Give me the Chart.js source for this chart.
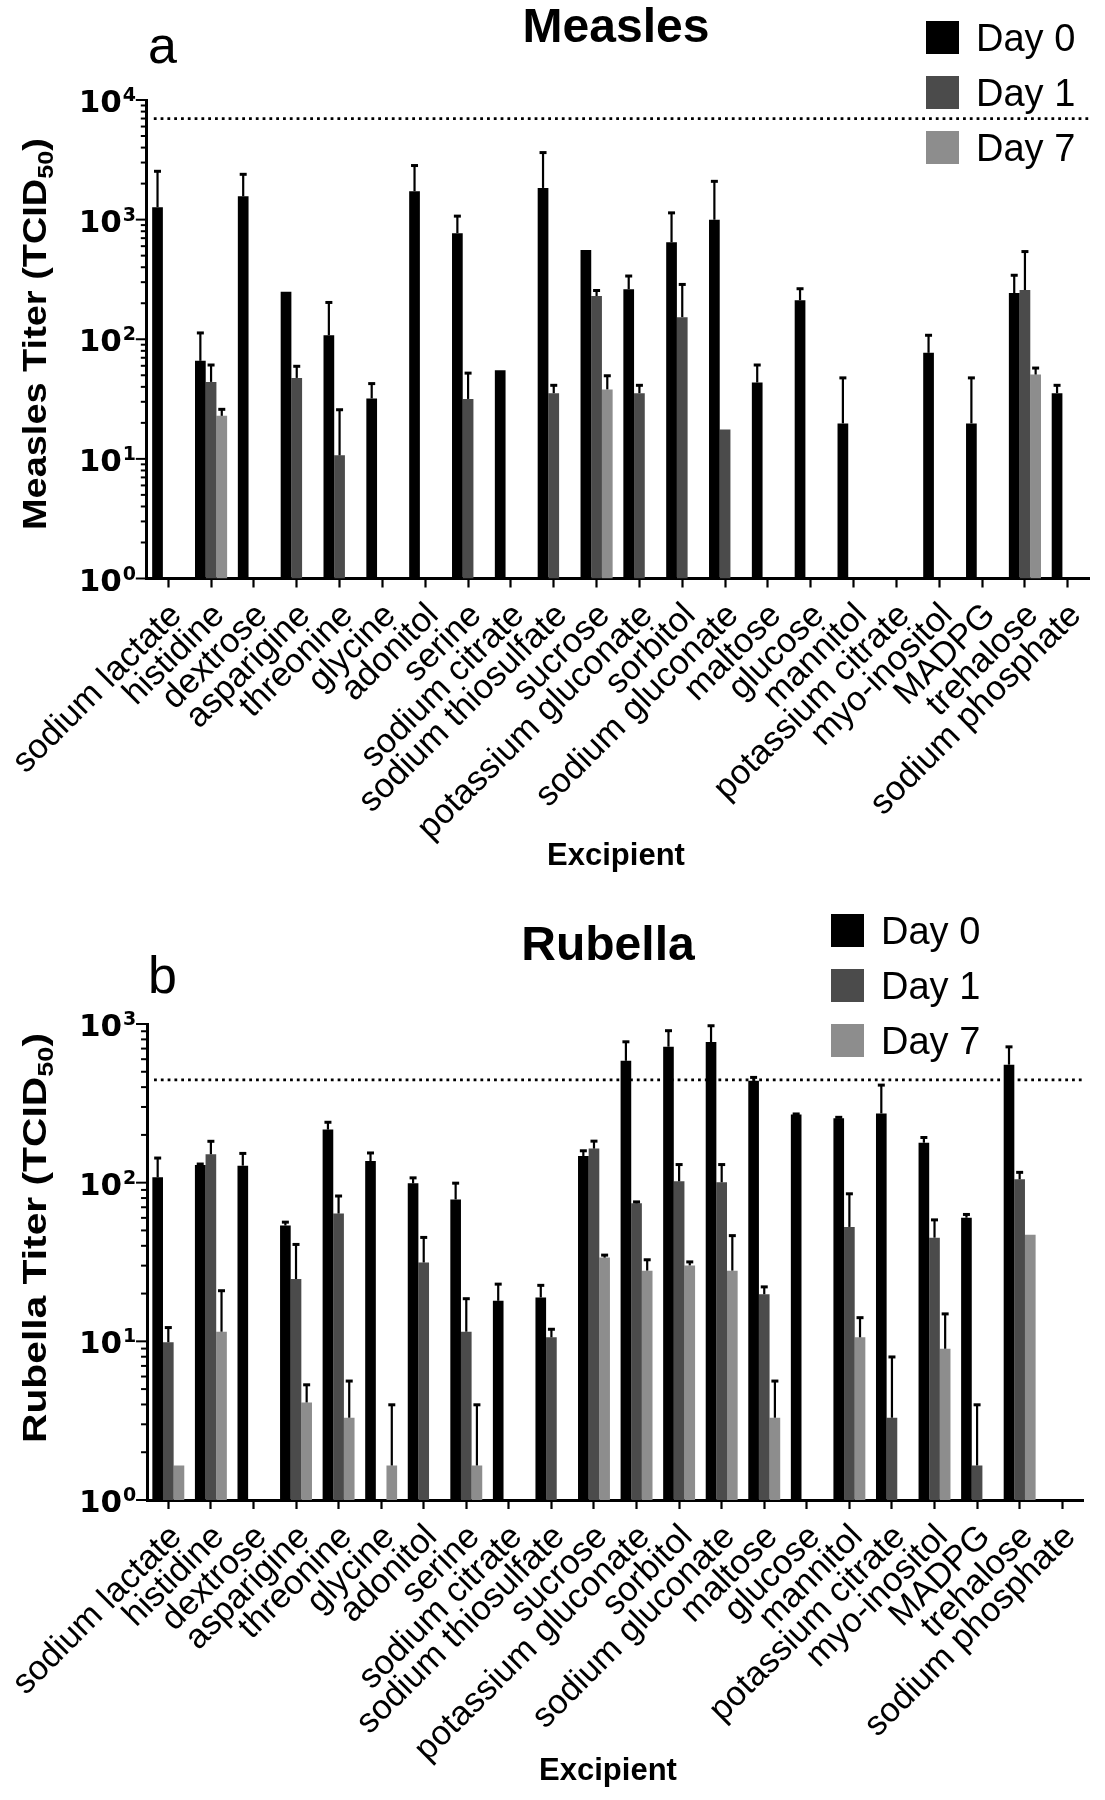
<!DOCTYPE html>
<html>
<head>
<meta charset="utf-8">
<script src="https://cdn.jsdelivr.net/npm/chart.js@4.4.1/dist/chart.umd.min.js"></script>
<style>
  body{margin:0;background:#fff;}
  .panel{position:relative;width:1105px;height:900px;}
</style>
</head>
<body>
<div class="panel"><canvas id="measles"></canvas></div>
<div class="panel"><canvas id="rubella"></canvas></div>
<script>
var excipients = ['sodium lactate','histidine','dextrose','asparigine','threonine','glycine','adonitol','serine',
  'sodium citrate','sodium thiosulfate','sucrose','potassium gluconate','sorbitol','sodium gluconate','maltose',
  'glucose','mannitol','potassium citrate','myo-inositol','MADPG','trehalose','sodium phosphate'];
var dayLabels = ['Day 0','Day 1','Day 7'];
var dayColors = ['#000000','#4b4b4b','#8d8d8d'];

// Measles titer (TCID50), bar value and top of error bar
var measlesDay0 = [1270,66,1565,249,108,32,1730,770,55,1840,558,262,647,998,43.5,212,19.8,null,77,19.8,243,35.4];
var measlesDay0Err = [2560,114,2415,null,205,43,2860,1080,null,3670,null,341,1150,2110,61.5,267,48,null,109,48,346,41.6];
var measlesDay1 = [null,44,null,47.5,10.7,null,null,31.7,null,35.4,230,35.4,153,17.6,null,null,null,null,null,null,258,null];
var measlesDay1Err = [null,61.5,null,60,26,null,null,52.6,null,41.6,258,41.6,290,null,null,null,null,null,null,null,546,null];
var measlesDay7 = [null,22.9,null,null,null,null,null,null,null,null,38.1,null,null,null,null,null,null,null,null,null,50.7,null];
var measlesDay7Err = [null,26.2,null,null,null,null,null,null,null,null,50,null,null,null,null,null,null,null,null,null,58,null];
var measlesLimit = 7000;

// Rubella titer (TCID50)
var rubellaDay0 = [108,129,128,53.7,216,137,99,78.4,18,18.9,147,586,719,769,439,269,255,273,178.5,60.1,554,null];
var rubellaDay0Err = [144,132,154,56.8,242,155,108,100,23.1,22.7,160,778,914,982,464,273,260,415,194,63.5,723,null];
var rubellaDay1 = [9.87,151,null,24.7,63.9,null,31.4,11.5,null,10.6,164,74.1,102,100.6,19.8,null,52.6,3.3,45,1.65,105,null];
var rubellaDay1Err = [12.3,183.6,null,41.1,83,null,45.5,18.7,null,12,184,76.2,131,131,22.2,null,85.7,8.03,58.7,4.01,117,null];
var rubellaDay7 = [1.65,11.5,null,4.12,3.3,1.65,null,1.65,null,null,33.7,27.9,30.1,27.9,3.3,null,10.6,null,8.98,null,47,null];
var rubellaDay7Err = [null,21,null,5.36,5.66,4.01,null,4.01,null,null,35.2,32.9,31.9,46.7,5.66,null,14.2,null,15,null,null,null];
var rubellaLimit = 444;

var panelDeco = {
  id: 'panelDeco',
  beforeDatasetsDraw: function(chart, args, o){
    var ctx = chart.ctx, area = chart.chartArea;
    var y = chart.scales.y.getPixelForValue(o.limit);
    ctx.save();
    ctx.strokeStyle = '#000';
    ctx.lineWidth = 2.8;
    ctx.setLineDash([2.8, 4]);
    ctx.beginPath();
    ctx.moveTo(area.left + 7, y);
    ctx.lineTo(area.right, y);
    ctx.stroke();
    ctx.restore();
  },
  afterDatasetsDraw: function(chart, args, o){
    //error bars (upper only)
    var ctx = chart.ctx, ys = chart.scales.y;
    ctx.save();
    ctx.strokeStyle = '#000';
    chart.data.datasets.forEach(function(ds, i){
      var meta = chart.getDatasetMeta(i);
      ds.errTop.forEach(function(top, j){
        if (top == null || ds.data[j] == null) return;
        var bar = meta.data[j], yt = ys.getPixelForValue(top);
        ctx.lineWidth = 2.2;
        ctx.beginPath(); ctx.moveTo(bar.x, bar.y); ctx.lineTo(bar.x, yt); ctx.stroke();
        ctx.lineWidth = 3;
        ctx.beginPath(); ctx.moveTo(bar.x - 3.5, yt + 0.5); ctx.lineTo(bar.x + 3.5, yt + 0.5); ctx.stroke();
      });
    });
    ctx.restore();
  },
  afterDraw: function(chart, args, o){
    var ctx = chart.ctx, ys = chart.scales.y, area = chart.chartArea, left = area.left;
    ctx.save();
    ctx.fillStyle = '#000';
    ctx.strokeStyle = '#000';
    ctx.lineWidth = 2;
    //log ticks and 10^n labels
    for (var k = 0; k <= o.decades; k++) {
      var base = Math.pow(10, k), py = ys.getPixelForValue(base);
      ctx.beginPath(); ctx.moveTo(left - 11, py); ctx.lineTo(left, py); ctx.stroke();
      if (k < o.decades) {
        for (var m = 2; m <= 9; m++) {
          var pm = ys.getPixelForValue(base * m);
          ctx.beginPath(); ctx.moveTo(left - 6, pm); ctx.lineTo(left, pm); ctx.stroke();
        }
      }
      ctx.font = 'bold 31px "DejaVu Sans"';
      ctx.textAlign = 'right';
      ctx.textBaseline = 'alphabetic';
      ctx.fillText('10', left - 25, py + 12);
      ctx.font = 'bold 19px "DejaVu Sans"';
      ctx.textAlign = 'left';
      ctx.fillText(String(k), left - 24, py + 1);
    }
    //title and panel letter
    ctx.textBaseline = 'alphabetic';
    ctx.font = 'bold 48px "Liberation Sans"';
    ctx.textAlign = 'center';
    ctx.fillText(o.title, o.titleX, o.titleY);
    ctx.font = '52px "Liberation Sans"';
    ctx.textAlign = 'left';
    ctx.fillText(o.letter, o.letterX, o.letterY);
    //legend
    chart.data.datasets.forEach(function(ds, i){
      var ly = o.legendY + i * 55;
      ctx.fillStyle = ds.backgroundColor;
      ctx.fillRect(o.legendX, ly, 33, 33);
      ctx.fillStyle = '#000';
      ctx.font = '38px "Liberation Sans"';
      ctx.fillText(ds.label, o.legendX + 50, ly + 30);
    });
    //x title
    ctx.font = 'bold 31px "Liberation Sans"';
    ctx.textAlign = 'center';
    ctx.fillText('Excipient', o.xTitleX, o.xTitleY);
    //y title with subscript
    ctx.translate(o.yTitleX, o.yTitleY);
    ctx.rotate(-Math.PI / 2);
    var main = o.yTitle + ' (TCID', sub = '50', end = ')';
    ctx.font = 'bold 33px "Liberation Sans"';
    var w1 = ctx.measureText(main).width, w3 = ctx.measureText(end).width;
    ctx.font = 'bold 22px "Liberation Sans"';
    var w2 = ctx.measureText(sub).width;
    var total = w1 + w2 + w3;
    ctx.scale(o.yTitleLen / total, 1);
    var x0 = -total / 2;
    ctx.textAlign = 'left';
    ctx.font = 'bold 33px "Liberation Sans"';
    ctx.fillText(main, x0, 0);
    ctx.font = 'bold 22px "Liberation Sans"';
    ctx.fillText(sub, x0 + w1, 7);
    ctx.font = 'bold 33px "Liberation Sans"';
    ctx.fillText(end, x0 + w1 + w2, 0);
    ctx.restore();
  }
};

function makePanel(id, cfg){
  var series = [cfg.day0, cfg.day1, cfg.day7];
  var errs = [cfg.day0Err, cfg.day1Err, cfg.day7Err];
  var datasets = [];
  for (var i = 0; i < 3; i++) {
    datasets.push({
      label: dayLabels[i],
      data: series[i],
      errTop: errs[i],
      backgroundColor: dayColors[i],
      borderWidth: 0,
      categoryPercentage: 0.75,
      barPercentage: 1
    });
  }
  return new Chart(document.getElementById(id), {
    type: 'bar',
    data: { labels: excipients, datasets: datasets },
    options: {
      responsive: true,
      maintainAspectRatio: false,
      animation: false,
      layout: { autoPadding: false, padding: { left: 0, top: cfg.top, right: 1105 - cfg.right, bottom: 0 } },
      scales: {
        x: {
          grid: { display: true, offset: false, drawOnChartArea: false, drawTicks: true, tickLength: 9, tickWidth: 2.2, tickColor: '#000' },
          border: { display: true, color: '#000', width: 3 },
          ticks: { autoSkip: false, minRotation: 45, maxRotation: 45, color: '#000', padding: 8, labelOffset: 8,
            font: { family: "'Liberation Sans', Arial, sans-serif", size: 34.5 } },
          afterFit: function(s){ s.height = 900 - cfg.bottom; }
        },
        y: {
          type: 'logarithmic',
          min: 1,
          max: cfg.max,
          grid: { display: false },
          border: { display: true, color: '#000', width: 3 },
          ticks: { display: false },
          afterFit: function(s){ s.width = cfg.left; }
        }
      },
      plugins: {
        legend: { display: false },
        tooltip: { enabled: false },
        panelDeco: cfg.deco
      }
    },
    plugins: [panelDeco]
  });
}

makePanel('measles', {
  day0: measlesDay0, day0Err: measlesDay0Err,
  day1: measlesDay1, day1Err: measlesDay1Err,
  day7: measlesDay7, day7Err: measlesDay7Err,
  max: 10000, left: 137, right: 1097, top: 100, bottom: 578.5,
  deco: { limit: measlesLimit, decades: 4, title: 'Measles', titleX: 616, titleY: 42,
    letter: 'a', letterX: 148, letterY: 63, legendX: 926, legendY: 21,
    xTitleX: 616, xTitleY: 865, yTitle: 'Measles Titer', yTitleX: 46, yTitleY: 334, yTitleLen: 392 }
});

makePanel('rubella', {
  day0: rubellaDay0, day0Err: rubellaDay0Err,
  day1: rubellaDay1, day1Err: rubellaDay1Err,
  day7: rubellaDay7, day7Err: rubellaDay7Err,
  max: 1000, left: 133, right: 1083.5, top: 124, bottom: 600,
  deco: { limit: rubellaLimit, decades: 3, title: 'Rubella', titleX: 608, titleY: 60,
    letter: 'b', letterX: 148, letterY: 93, legendX: 831, legendY: 14,
    xTitleX: 608, xTitleY: 880, yTitle: 'Rubella Titer', yTitleX: 46, yTitleY: 338, yTitleLen: 410 }
});
</script>
</body>
</html>
